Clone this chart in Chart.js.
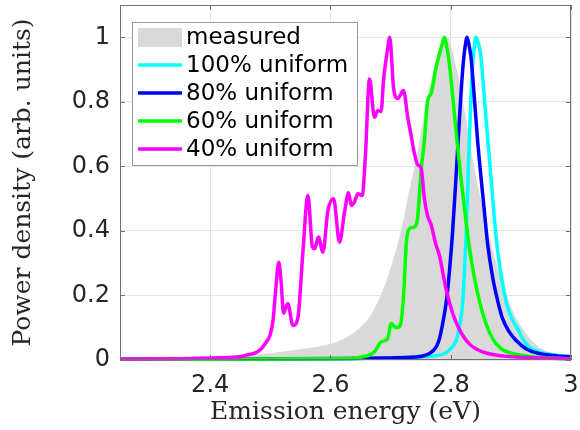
<!DOCTYPE html>
<html>
<head>
<meta charset="utf-8">
<script src="https://cdn.jsdelivr.net/npm/chart.js@4.4.1/dist/chart.umd.min.js"></script>
<style>
  html, body { margin: 0; padding: 0; background: #fff; }
  #wrap { width: 580px; height: 430px; }
</style>
</head>
<body>
<div id="wrap"><canvas id="myChart" width="580" height="430"></canvas></div>
<script>
// Spectra (energy in eV, normalised power)
const measuredE = [2.25, 2.35, 2.45, 2.495, 2.55, 2.58, 2.60, 2.615, 2.632, 2.665, 2.687, 2.704, 2.720, 2.731, 2.742, 2.753, 2.765, 2.776, 2.787, 2.794, 2.799, 2.803, 2.814, 2.825, 2.836, 2.848, 2.859, 2.870, 2.881, 2.892, 2.908, 2.925, 2.947, 2.969, 3.0];
const measuredP = [0.004, 0.007, 0.013, 0.02, 0.033, 0.042, 0.05, 0.06, 0.076, 0.133, 0.216, 0.309, 0.422, 0.525, 0.618, 0.732, 0.845, 0.928, 0.98, 1.0, 0.985, 0.955, 0.866, 0.752, 0.628, 0.515, 0.422, 0.34, 0.267, 0.205, 0.133, 0.082, 0.04, 0.02, 0.01];

const uni100E = [2.25, 2.5, 2.65, 2.73, 2.77, 2.781, 2.79, 2.80, 2.809, 2.8155, 2.8198, 2.8226, 2.8254, 2.8281, 2.8309, 2.8337, 2.8364, 2.8395, 2.842, 2.8445, 2.8475, 2.8503, 2.8558, 2.8613, 2.8669, 2.8724, 2.8779, 2.8862, 2.8945, 2.9028, 2.9111, 2.9194, 2.9305, 2.9471, 2.9748, 3.0];
const uni100P = [0.002, 0.003, 0.005, 0.008, 0.012, 0.015, 0.02, 0.035, 0.061, 0.113, 0.175, 0.267, 0.381, 0.525, 0.68, 0.814, 0.918, 0.975, 1.0, 0.99, 0.97, 0.938, 0.814, 0.69, 0.567, 0.443, 0.34, 0.236, 0.164, 0.123, 0.097, 0.066, 0.04, 0.025, 0.015, 0.01];

const uni80E = [2.25, 2.5, 2.63, 2.687, 2.742, 2.7645, 2.7756, 2.7811, 2.7866, 2.7922, 2.7977, 2.8032, 2.8088, 2.8143, 2.8198, 2.8235, 2.8271, 2.8305, 2.8337, 2.8392, 2.8447, 2.8503, 2.8558, 2.8613, 2.8696, 2.8779, 2.8862, 2.8973, 2.9084, 2.925, 2.9471, 2.9803, 3.0];
const uni80P = [0.003, 0.004, 0.005, 0.006, 0.009, 0.02, 0.04, 0.065, 0.113, 0.175, 0.272, 0.40, 0.567, 0.742, 0.897, 0.965, 1.0, 0.975, 0.938, 0.814, 0.68, 0.567, 0.464, 0.36, 0.257, 0.185, 0.128, 0.087, 0.061, 0.035, 0.02, 0.012, 0.01];

const uni60E = [2.25, 2.45, 2.55, 2.632, 2.654, 2.673, 2.684, 2.695, 2.701, 2.709, 2.716, 2.7214, 2.7268, 2.7341, 2.7396, 2.7451, 2.7507, 2.7562, 2.7617, 2.7673, 2.7756, 2.786, 2.7894, 2.7925, 2.7977, 2.806, 2.8143, 2.8226, 2.8309, 2.8392, 2.8475, 2.8586, 2.8696, 2.8835, 2.9028, 2.936, 3.0];
const uni60P = [0.002, 0.003, 0.004, 0.005, 0.01, 0.025, 0.056, 0.066, 0.113, 0.10, 0.107, 0.195, 0.376, 0.41, 0.412, 0.443, 0.587, 0.68, 0.804, 0.825, 0.907, 0.98, 1.0, 0.98, 0.918, 0.763, 0.608, 0.474, 0.35, 0.257, 0.185, 0.113, 0.066, 0.035, 0.02, 0.01, 0.004];

const uni40E = [2.25, 2.35, 2.40, 2.43, 2.449, 2.46, 2.475, 2.485, 2.4935, 2.50, 2.5045, 2.509, 2.514, 2.518, 2.522, 2.529, 2.5376, 2.546, 2.554, 2.5625, 2.570, 2.5737, 2.580, 2.5874, 2.5957, 2.6052, 2.615, 2.6234, 2.630, 2.6346, 2.640, 2.6455, 2.6528, 2.658, 2.6649, 2.6732, 2.6787, 2.6843, 2.6882, 2.6955, 2.6981, 2.7005, 2.7048, 2.7119, 2.7214, 2.7285, 2.7341, 2.7396, 2.7451, 2.7507, 2.7562, 2.7617, 2.7673, 2.775, 2.7811, 2.7922, 2.8032, 2.8143, 2.8309, 2.853, 2.89, 2.95, 3.0];
const uni40P = [0.003, 0.004, 0.006, 0.008, 0.01, 0.015, 0.022, 0.035, 0.056, 0.08, 0.123, 0.22, 0.303, 0.24, 0.145, 0.175, 0.107, 0.133, 0.33, 0.51, 0.35, 0.345, 0.381, 0.334, 0.463, 0.50, 0.365, 0.458, 0.518, 0.479, 0.49, 0.515, 0.51, 0.63, 0.871, 0.752, 0.773, 0.77, 0.866, 0.97, 1.0, 0.97, 0.845, 0.81, 0.835, 0.752, 0.696, 0.64, 0.605, 0.595, 0.50, 0.445, 0.42, 0.36, 0.325, 0.22, 0.145, 0.095, 0.05, 0.025, 0.012, 0.006, 0.004];

const xTicks = [2.4, 2.6, 2.8, 3];
const yTicks = [0, 0.2, 0.4, 0.6, 0.8, 1];
const seriesNames = ['measured', '100% uniform', '80% uniform', '60% uniform', '40% uniform'];
const seriesColors = ['#d9d9d9', '#00ffff', '#0000ff', '#00ff00', '#ff00ff'];

function toPoints(xs, ys) {
    return xs.map((x, i) => ({ x: x, y: ys[i] }));
}

function lineSet(idx, xs, ys) {
    return {
        label: seriesNames[idx],
        data: toPoints(xs, ys),
        borderColor: seriesColors[idx],
        borderWidth: 3.5,
        pointRadius: 0,
        fill: false,
        cubicInterpolationMode: 'monotone',
        clip: 2,
        order: 5 - idx
    };
}

// Box with inward ticks, like the original axes
const axesBox = {
    id: 'axesBox',
    afterDatasetsDraw(chart) {
        const { ctx, chartArea: a, scales: { x, y } } = chart;
        ctx.save();
        ctx.strokeStyle = '#707070';
        ctx.lineWidth = 1;
        ctx.beginPath();
        xTicks.forEach(v => {
            const px = Math.round(x.getPixelForValue(v)) + 0.5;
            ctx.moveTo(px, a.bottom); ctx.lineTo(px, a.bottom - 5);
            ctx.moveTo(px, a.top); ctx.lineTo(px, a.top + 5);
        });
        yTicks.forEach(v => {
            const py = Math.round(y.getPixelForValue(v)) + 0.5;
            ctx.moveTo(a.left, py); ctx.lineTo(a.left + 5, py);
            ctx.moveTo(a.right, py); ctx.lineTo(a.right - 5, py);
        });
        ctx.stroke();
        ctx.strokeRect(a.left + 0.5, a.top + 0.5, a.width - 1, a.height - 1);
        ctx.restore();
    }
};

// Legend box in the upper left of the plot
const boxLegend = {
    id: 'boxLegend',
    afterDraw(chart) {
        const { ctx, chartArea: a } = chart;
        const left = a.left + 12;
        const top = a.top + 17;
        const rowH = 28;
        ctx.save();
        ctx.fillStyle = '#fff';
        ctx.fillRect(left, top, 225, 143);
        ctx.strokeStyle = '#9a9a9a';
        ctx.lineWidth = 1;
        ctx.strokeRect(left + 0.5, top + 0.5, 225, 143);
        ctx.font = '23px "DejaVu Sans"';
        ctx.textBaseline = 'middle';
        seriesNames.forEach((name, i) => {
            const cy = top + 15 + i * rowH;
            if (i === 0) {
                ctx.fillStyle = seriesColors[0];
                ctx.fillRect(left + 6, cy - 9, 44, 19);
            } else {
                ctx.strokeStyle = seriesColors[i];
                ctx.lineWidth = 3.5;
                ctx.beginPath();
                ctx.moveTo(left + 6, cy);
                ctx.lineTo(left + 50, cy);
                ctx.stroke();
            }
            ctx.fillStyle = '#000';
            ctx.fillText(name, left + 54, cy + 1);
        });
        ctx.restore();
    }
};

const ctx = document.getElementById('myChart').getContext('2d');
const myChart = new Chart(ctx, {
    type: 'line',
    data: {
        datasets: [
            {
                label: seriesNames[0],
                data: toPoints(measuredE, measuredP),
                borderColor: 'rgba(0,0,0,0)',
                borderWidth: 0,
                backgroundColor: seriesColors[0],
                pointRadius: 0,
                fill: 'origin',
                cubicInterpolationMode: 'monotone',
                order: 5
            },
            lineSet(1, uni100E, uni100P),
            lineSet(2, uni80E, uni80P),
            lineSet(3, uni60E, uni60P),
            lineSet(4, uni40E, uni40P)
        ]
    },
    options: {
        responsive: false,
        animation: false,
        layout: { padding: { top: 5, right: 9, left: 0, bottom: 0 } },
        plugins: {
            legend: { display: false },
            tooltip: { enabled: false }
        },
        scales: {
            x: {
                type: 'linear',
                min: 2.25,
                max: 3,
                afterBuildTicks: s => { s.ticks = xTicks.map(v => ({ value: v })); },
                afterFit: s => { s.height = 70; s.paddingLeft = 0; s.paddingRight = 0; },
                grid: { color: '#e4e4e4', drawTicks: false },
                border: { display: false },
                ticks: {
                    padding: 11,
                    color: '#262626',
                    maxRotation: 0,
                    autoSkip: false,
                    font: { family: '"DejaVu Sans"', size: 24 },
                    callback: v => String(v)
                },
                title: {
                    display: true,
                    text: 'Emission energy (eV)',
                    color: '#262626',
                    font: { family: '"DejaVu Serif"', size: 25, lineHeight: 1.2 },
                    padding: { top: 0, bottom: 3 }
                }
            },
            y: {
                min: 0,
                max: 1.1,
                afterBuildTicks: s => { s.ticks = yTicks.map(v => ({ value: v })); },
                afterFit: s => { s.width = 120; s.paddingTop = 0; s.paddingBottom = 0; },
                grid: { color: '#e4e4e4', drawTicks: false },
                border: { display: false },
                ticks: {
                    padding: 10,
                    color: '#262626',
                    font: { family: '"DejaVu Sans"', size: 24 },
                    callback: v => String(v)
                },
                title: {
                    display: true,
                    text: 'Power density (arb. units)',
                    color: '#262626',
                    font: { family: '"DejaVu Serif"', size: 25, lineHeight: 1.2 },
                    padding: { top: 8, bottom: 0 }
                }
            }
        }
    },
    plugins: [axesBox, boxLegend]
});
</script>
</body>
</html>
